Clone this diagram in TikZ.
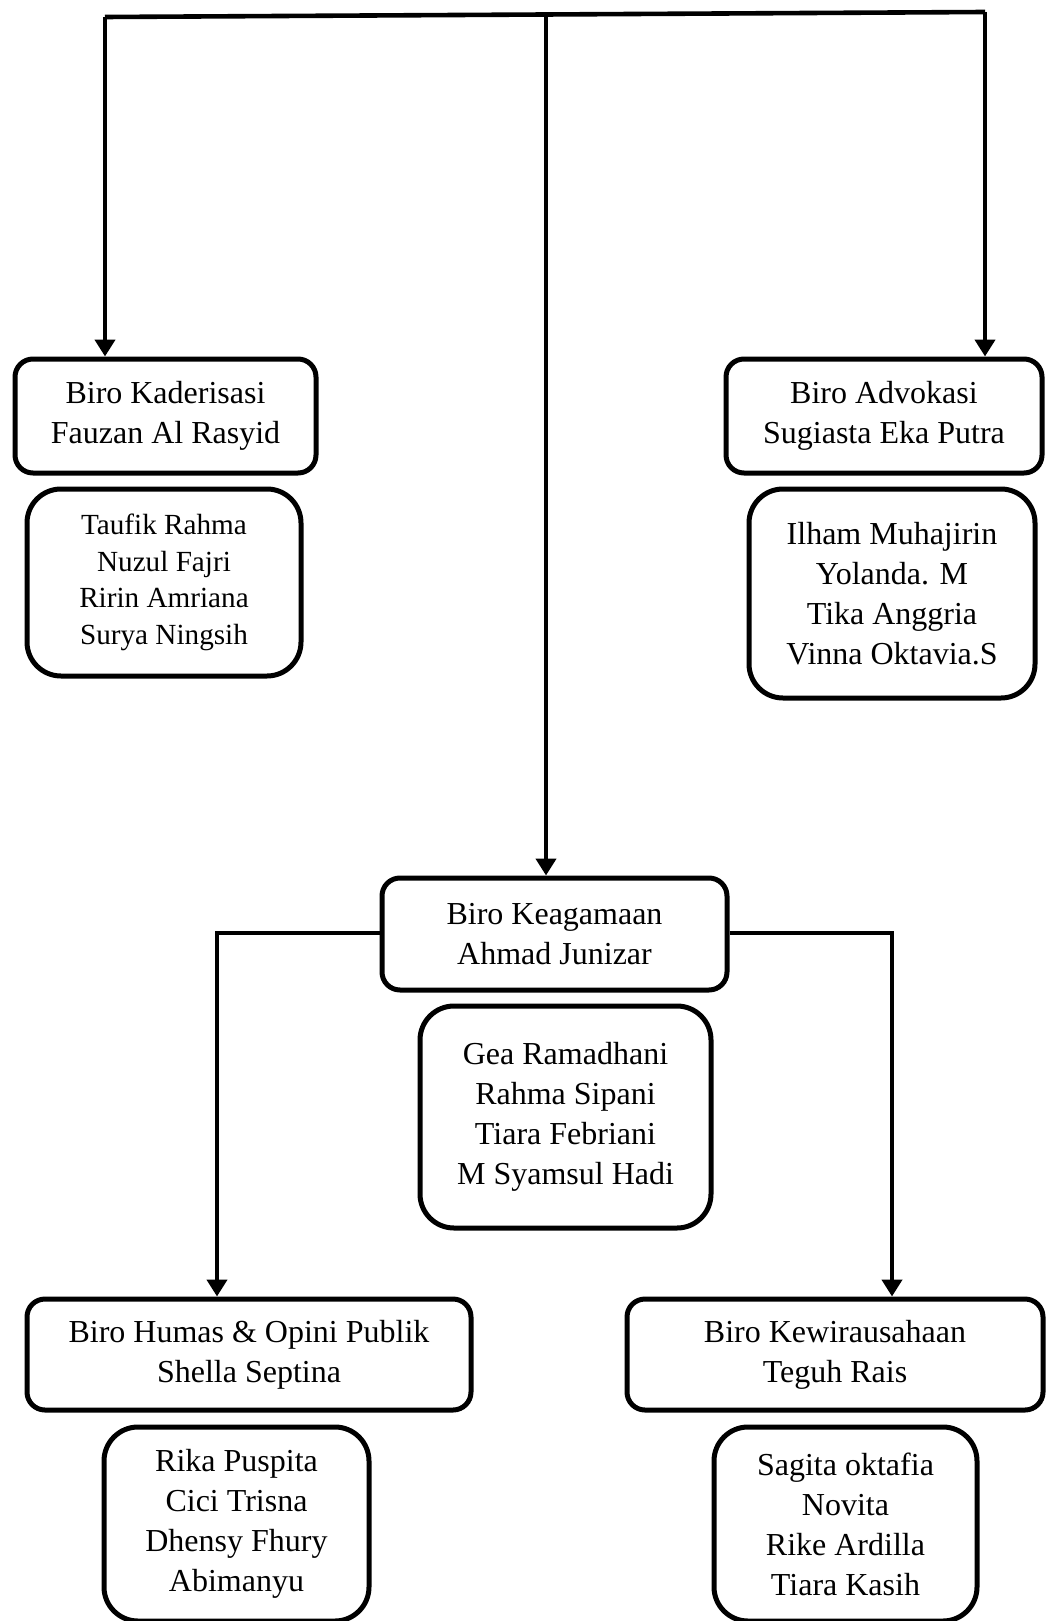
\documentclass[tikz,border=0pt]{standalone}
\usepackage{fontspec}
\setmainfont{Liberation Serif}
\usetikzlibrary{arrows.meta}

\newcommand{\birofont}{\fontsize{16}{20}\selectfont}
\newcommand{\kecilfont}{\fontsize{14.6}{18.3}\selectfont}

\begin{document}
\begin{tikzpicture}[x=0.5pt,y=-0.5pt,
        kotak/.style={draw, line width=2.5pt, rounded corners=9pt, align=center, inner sep=0pt, font=\birofont},
        anggota/.style={kotak, rounded corners=17pt},
        garis/.style={line width=2.3pt},
        panah/.style={garis, -{Triangle[width=10pt,length=8.5pt]}}]
        \useasboundingbox (0,0) rectangle (1046,1621);
        \node[kotak, minimum width=150.5pt, minimum height=57pt] (kad) at (165.5,416) {Biro Kaderisasi\\Fauzan Al Rasyid};
        \node[kotak, minimum width=158pt, minimum height=57pt] (adv) at (884,416) {Biro Advokasi\\Sugiasta Eka Putra};
        \node[kotak, minimum width=172.5pt, minimum height=56pt] (kag) at (554.5,934) {Biro Keagamaan\\Ahmad Junizar};
        \node[kotak, minimum width=222pt, minimum height=55.5pt] (hum) at (249,1354.5) {Biro Humas \& Opini Publik\\Shella Septina};
        \node[kotak, minimum width=208pt, minimum height=55.5pt] (kew) at (835,1354.5) {Biro Kewirausahaan\\Teguh Rais};
        \node[anggota, font=\kecilfont, minimum width=137pt, minimum height=93.5pt] (kadm) at (164,582.5) {Taufik Rahma\\Nuzul Fajri\\Ririn Amriana\\Surya Ningsih};
        \node[anggota, minimum width=143pt, minimum height=104.5pt] (advm) at (892,593.5) {Ilham Muhajirin\\Yolanda. M\\Tika Anggria\\Vinna Oktavia.S};
        \node[anggota, minimum width=145.5pt, minimum height=111pt] (kagm) at (565.5,1117) {Gea Ramadhani\\Rahma Sipani\\Tiara Febriani\\M Syamsul Hadi};
        \node[anggota, minimum width=132.5pt, minimum height=97pt] (humm) at (236.5,1524) {Rika Puspita\\Cici Trisna\\Dhensy Fhury\\Abimanyu};
        \node[anggota, minimum width=131.5pt, minimum height=97pt] (kewm) at (845.5,1524) {Sagita oktafia\\Novita\\Rike Ardilla\\Tiara Kasih};
        \coordinate (tl) at (105,17);
        \coordinate (tm) at (546,14.5);
        \coordinate (tr) at (985,12);
        \coordinate (bl) at (217,933);
        \coordinate (br) at (892,933);
        \draw[garis] (tl) -- (tr);
        \draw[panah] (tl) -- (tl |- kad.north);
        \draw[panah] (tm) -- (tm |- kag.north);
        \draw[panah] (tr) -- (tr |- adv.north);
        \draw[panah] (kag.west |- bl) -| (bl |- hum.north);
        \draw[panah] (kag.east |- br) -| (br |- kew.north);
    \end{tikzpicture}
\end{document}
